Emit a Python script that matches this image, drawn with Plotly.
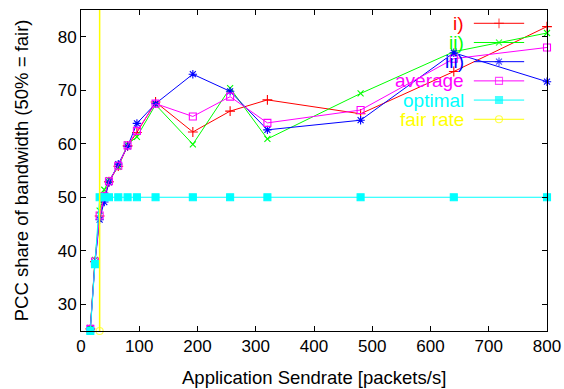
import plotly.graph_objects as go

# Application send rates (packets/s)
rates = [16, 24, 32, 40, 48, 64, 80, 96, 128, 192, 256, 320, 480, 640, 800]

# PCC share of bandwidth (%) per run
run_i = [25.4, 38.0, 46.5, 50.0, 52.9, 55.8, 59.6, 62.1, 67.8, 62.2, 66.1, 68.2, 65.6, 73.5, 81.9]
run_ii = [25.6, 38.3, 47.5, 51.4, 53.2, 55.7, 59.9, 61.3, 67.3, 59.9, 70.4, 60.9, 69.4, 77.2, 80.7]
run_iii = [25.3, 37.8, 45.8, 49.1, 52.8, 56.2, 59.5, 63.8, 67.5, 73.0, 69.8, 62.6, 64.4, 77.0, 71.6]
average = [25.4, 38.0, 46.6, 50.2, 53.0, 55.9, 59.7, 62.4, 67.5, 65.1, 68.8, 63.9, 66.3, 75.9, 78.0]
optimal = [25.0, 37.5, 50, 50, 50, 50, 50, 50, 50, 50, 50, 50, 50, 50, 50]

# Fair rate marker line
fair_x = [32, 32]
fair_y = [25, 100]

series = [
    ("i)", run_i, "#ff0000", "cross-thin-open", 7),
    ("ii)", run_ii, "#00ff00", "x-thin-open", 6),
    ("iii)", run_iii, "#0000ff", "asterisk-open", 7),
    ("average", average, "#ff00ff", "square-open", 7),
    ("optimal", optimal, "#00ffff", "square", 7),
]

FONT = "Liberation Sans, Arial, Helvetica, sans-serif"

fig = go.Figure()

for name, ys, color, sym, size in series:
    fig.add_trace(go.Scatter(
        x=rates, y=ys, mode="lines+markers", name=name,
        line=dict(color=color, width=1),
        marker=dict(symbol=sym, size=size, color=color,
                    line=dict(color=color, width=1.1)),
        cliponaxis=False, showlegend=False,
    ))

fig.add_trace(go.Scatter(
    x=fair_x, y=fair_y, mode="lines+markers", name="fair rate",
    line=dict(color="#ffff00", width=1.5),
    marker=dict(symbol="circle-open", size=[7, 0], color="#ffff00",
                line=dict(color="#ffff00", width=1.2)),
    cliponaxis=False, showlegend=False,
))

# Key: right-aligned coloured labels with a sample line and point to the right
key_entries = [(s[0], s[2], s[3], s[4]) for s in series] + [("fair rate", "#ffff00", "circle-open", 7)]
row0, row_step = 0.9586, 0.0598
for k, (name, color, sym, size) in enumerate(key_entries):
    yk = row0 - k * row_step
    fig.add_annotation(
        x=0.826, y=yk, xref="paper", yref="paper", xanchor="right", yanchor="middle",
        text=name, showarrow=False, font=dict(family=FONT, size=19, color=color),
    )
    fig.add_trace(go.Scatter(
        x=[0.843, 0.897, 0.951], y=[yk, yk, yk], xaxis="x2", yaxis="y2",
        mode="lines+markers", line=dict(color=color, width=1),
        marker=dict(symbol=sym, size=[0, size, 0], color=color,
                    line=dict(color=color, width=1.1)),
        showlegend=False, hoverinfo="skip", cliponaxis=False,
    ))

# Axis titles
fig.add_annotation(
    x=0.5, y=-0.145, xref="paper", yref="paper", xanchor="center", yanchor="middle",
    text="Application Sendrate [packets/s]", showarrow=False,
    font=dict(family=FONT, size=18.5, color="black"),
)
fig.add_annotation(
    x=-0.127, y=0.5, xref="paper", yref="paper", xanchor="center", yanchor="middle",
    text="PCC share of bandwidth (50% = fair)", showarrow=False, textangle=-90,
    font=dict(family=FONT, size=18.5, color="black"),
)

axis_common = dict(
    showline=True, linecolor="black", linewidth=1, mirror="allticks",
    ticks="inside", ticklen=5, tickcolor="black", tickwidth=1,
    showgrid=False, zeroline=False, automargin=False,
    tickfont=dict(family=FONT, size=17, color="black"),
)

fig.update_layout(
    width=564, height=389,
    margin=dict(l=81, r=17, t=10, b=58),
    paper_bgcolor="white", plot_bgcolor="white",
    showlegend=False,
    xaxis=dict(range=[0, 800], tickvals=list(range(0, 801, 100)), **axis_common),
    yaxis=dict(range=[25, 85], tickvals=[30, 40, 50, 60, 70, 80], **axis_common),
    xaxis2=dict(range=[0, 1], overlaying="x", visible=False, fixedrange=True),
    yaxis2=dict(range=[0, 1], overlaying="y", visible=False, fixedrange=True),
)

fig.write_html("out.html")
